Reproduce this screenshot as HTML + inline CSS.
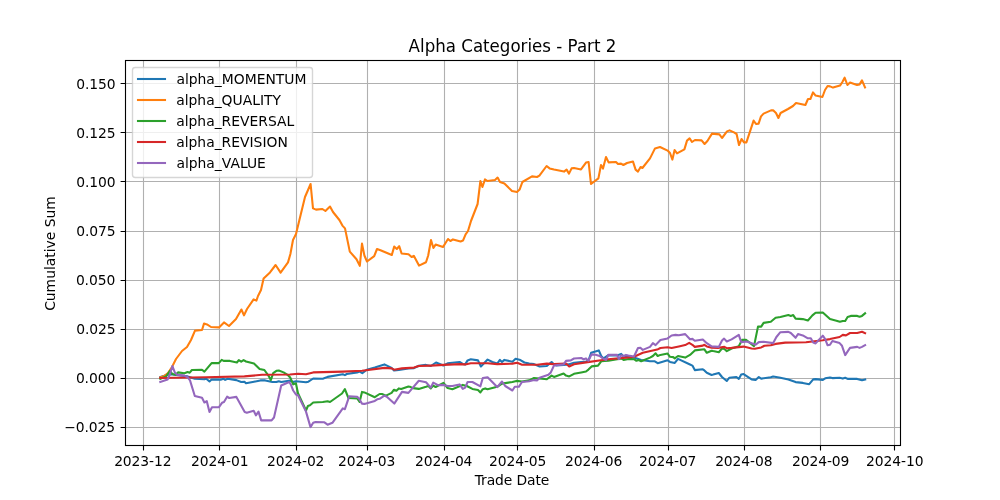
<!DOCTYPE html>
<html lang="en"><head><meta charset="utf-8"><title>Alpha Categories - Part 2</title>
<style>html,body{margin:0;padding:0;background:#fff}svg{display:block}text{font-family:"DejaVu Sans","Liberation Sans",sans-serif;fill:#000}</style></head><body>
<svg width="1000" height="500" viewBox="0 0 1000 500">
<rect width="1000" height="500" fill="#fff"/>
<path d="M143.5 60.5V445.5M219.5 60.5V445.5M296.5 60.5V445.5M367.5 60.5V445.5M444.5 60.5V445.5M517.5 60.5V445.5M594.5 60.5V445.5M668.5 60.5V445.5M744.5 60.5V445.5M820.5 60.5V445.5M894.5 60.5V445.5M125.5 427.5H900.5M125.5 378.5H900.5M125.5 329.5H900.5M125.5 280.5H900.5M125.5 231.5H900.5M125.5 181.5H900.5M125.5 132.5H900.5M125.5 83.5H900.5" fill="none" stroke="#b0b0b0" stroke-width="1.111"/>
<path d="M143.5 445.5V450.41M219.5 445.5V450.41M296.5 445.5V450.41M367.5 445.5V450.41M444.5 445.5V450.41M517.5 445.5V450.41M594.5 445.5V450.41M668.5 445.5V450.41M744.5 445.5V450.41M820.5 445.5V450.41M894.5 445.5V450.41M125.5 427.5H120.59M125.5 378.5H120.59M125.5 329.5H120.59M125.5 280.5H120.59M125.5 231.5H120.59M125.5 181.5H120.59M125.5 132.5H120.59M125.5 83.5H120.59" fill="none" stroke="#000" stroke-width="1.111"/>
<clipPath id="c"><rect x="125.5" y="60.5" width="775" height="385"/></clipPath>
<g clip-path="url(#c)" fill="none" stroke-width="2.083" stroke-linejoin="round" stroke-linecap="square">
<polyline stroke="#1f77b4" points="160.3,376.9 166.0,375.3 170.8,374.3 187.6,376.4 194.8,378.8 204.4,379.3 206.0,378.5 209.5,381.5 211.6,379.6 221.2,379.6 223.6,378.8 225.2,379.9 227.6,378.8 236.4,380.1 241.2,382.0 244.4,381.7 246.0,383.3 254.0,381.7 260.4,380.4 265.2,380.4 272.4,382.0 276.4,382.0 278.8,381.2 281.2,382.0 290.4,380.6 293.2,382.0 295.9,381.2 306.0,382.3 308.4,381.7 313.2,378.5 322.8,378.8 327.6,376.9 342.8,374.3 344.9,375.1 346.8,374.0 357.2,372.4 359.6,371.6 362.3,373.2 366.8,369.7 374.8,367.6 379.6,366.0 384.4,364.4 391.6,367.9 394.0,370.5 398.8,370.0 408.4,368.4 414.0,368.1 418.8,365.7 426.0,364.9 430.8,366.0 436.0,362.5 443.4,365.5 447.6,363.3 459.6,362.0 462.8,363.9 465.2,364.4 467.6,360.4 470.8,359.3 478.0,360.4 480.9,366.5 487.6,359.6 492.4,362.0 497.2,363.6 499.9,359.9 502.0,362.0 504.4,359.9 512.4,361.7 515.6,358.8 520.4,360.1 524.4,362.5 529.2,363.6 534.0,364.1 539.6,366.5 546.8,366.0 551.6,362.0 554.0,364.4 556.4,365.5 563.6,364.9 568.4,364.4 574.0,362.8 586.0,361.6 588.4,360.8 591.1,352.8 598.8,350.4 601.2,356.0 603.6,358.4 608.4,355.2 617.2,355.5 621.2,353.9 623.6,356.5 634.0,357.6 641.2,360.0 650.0,361.3 654.8,361.3 657.7,363.2 667.6,360.3 670.0,361.9 674.8,362.9 678.0,358.9 690.0,364.5 692.4,365.6 694.8,370.1 702.8,369.3 704.4,370.4 706.8,372.8 711.6,375.0 713.2,374.6 718.8,373.0 722.0,377.0 726.8,381.0 729.2,377.8 736.4,377.0 738.8,378.9 741.2,374.6 743.6,374.1 751.6,379.4 755.6,379.9 758.8,377.0 761.2,378.6 770.8,377.3 773.2,376.5 780.4,377.8 788.4,379.4 795.6,382.1 802.8,382.9 809.2,384.2 813.2,379.4 815.6,379.1 822.8,379.9 825.2,378.3 830.0,377.5 832.4,378.1 839.6,377.8 842.8,378.6 845.2,377.8 847.6,378.9 857.2,378.9 862.0,380.2 865.2,379.4"/>
<polyline stroke="#ff7f0e" points="160.3,377.4 164.0,376.0 168.0,373.0 172.0,367.0 176.0,359.0 182.0,351.0 187.0,347.0 191.0,340.0 195.0,330.6 202.0,330.0 204.0,323.6 207.0,324.4 211.0,327.0 219.0,327.4 224.0,322.4 229.0,326.0 236.0,319.0 241.4,309.5 244.0,315.4 247.0,309.0 253.6,299.4 256.4,300.6 258.0,296.0 261.0,290.0 263.6,278.6 270.0,272.4 275.6,265.0 280.6,272.6 288.0,262.4 290.4,254.0 293.0,240.0 296.0,234.0 299.4,220.0 305.0,197.0 310.6,184.0 313.0,208.4 316.0,209.6 322.4,209.0 325.4,211.0 330.0,206.5 333.0,212.0 339.4,220.0 342.4,225.6 345.0,228.4 349.8,251.6 356.5,259.2 359.8,265.8 362.0,243.6 364.4,255.5 367.0,261.5 374.2,256.2 377.0,249.0 380.5,250.2 391.8,255.0 394.2,246.6 396.8,249.0 399.2,246.2 401.6,253.5 408.5,254.2 411.6,257.0 413.8,255.8 419.0,265.6 426.0,262.2 428.2,255.5 431.0,240.0 433.4,248.0 435.6,244.6 443.0,247.0 448.0,239.0 450.4,241.0 453.0,239.4 460.6,241.4 463.0,240.6 465.6,234.4 468.0,231.0 471.0,221.0 477.6,204.0 480.4,181.0 482.4,187.0 485.0,179.4 487.4,181.0 495.0,180.0 497.6,177.6 500.0,182.0 504.4,183.6 512.0,191.0 517.0,192.0 519.6,189.6 522.4,182.0 532.0,176.4 537.0,177.0 539.4,175.6 546.6,166.0 549.6,168.4 554.0,169.6 564.0,171.6 566.6,169.6 569.0,173.6 571.6,168.4 574.0,168.0 581.0,169.4 586.0,162.6 588.6,162.0 591.0,184.0 598.4,178.4 601.0,165.0 603.0,168.6 606.0,157.0 608.6,162.4 616.0,162.0 618.0,164.0 621.0,163.6 623.4,165.0 627.0,163.0 633.0,161.6 635.6,169.6 638.0,171.6 640.6,167.0 642.4,168.0 650.0,158.4 655.0,148.4 660.0,147.0 667.6,150.6 670.0,153.0 672.4,159.6 674.6,150.0 677.0,153.4 684.4,149.4 687.0,140.6 689.6,138.4 692.0,142.0 695.0,140.0 701.6,140.4 704.6,144.0 707.4,141.0 712.0,133.6 719.4,134.4 722.0,138.0 727.0,131.4 729.6,130.4 734.0,132.4 736.6,134.0 739.0,145.0 741.6,139.0 744.0,142.4 746.4,142.4 753.6,120.6 756.0,124.0 758.6,123.6 761.0,116.4 763.6,113.6 771.0,110.4 773.4,110.4 776.0,113.0 778.4,118.0 780.6,113.0 788.0,109.0 793.0,106.0 796.0,103.0 805.4,105.0 808.0,99.0 810.4,99.0 813.0,92.4 815.6,95.6 822.4,97.0 825.0,90.0 827.6,86.0 830.0,86.4 833.0,87.6 840.0,85.6 842.4,82.0 844.6,77.6 847.4,85.0 850.0,82.6 857.0,85.0 859.6,84.4 862.0,80.4 865.0,87.4"/>
<polyline stroke="#2ca02c" points="160.3,378.8 166.0,376.4 170.0,370.8 172.4,374.0 175.6,374.8 178.0,372.4 184.4,373.2 187.6,372.0 189.7,372.7 191.9,370.0 202.0,369.7 204.4,371.6 211.6,363.1 218.8,363.1 221.7,359.9 223.6,360.9 230.0,360.9 236.9,362.5 238.8,360.1 241.2,361.7 243.6,360.1 246.0,361.5 254.0,363.6 259.6,368.9 264.4,370.0 268.4,375.6 270.8,380.1 273.2,373.2 276.4,370.8 278.8,370.5 283.6,372.4 287.6,374.8 290.4,377.8 293.2,384.4 295.9,383.3 298.0,393.2 306.0,410.5 307.9,406.0 310.0,405.2 313.2,402.5 322.8,402.0 327.6,401.2 330.0,402.0 342.0,393.5 344.9,389.2 348.4,398.0 357.2,398.5 359.6,402.0 362.0,391.9 364.4,392.4 374.8,397.2 379.6,394.0 382.0,394.0 386.0,395.6 391.6,392.9 394.0,389.7 396.4,390.8 398.8,388.4 401.2,388.9 408.4,386.5 410.8,387.1 413.2,388.1 418.8,388.9 426.0,386.8 428.4,386.0 430.8,388.4 433.2,385.6 435.6,387.0 443.5,382.8 447.6,388.0 452.4,389.2 462.8,384.9 466.8,386.0 472.4,388.9 478.0,390.0 480.4,392.4 482.8,389.2 485.2,388.4 487.6,389.2 497.2,386.8 502.0,383.6 512.4,382.0 516.4,380.9 522.0,381.5 529.2,380.4 534.0,378.0 542.0,378.8 546.8,379.3 551.6,375.6 554.0,376.9 563.6,373.5 566.0,375.6 569.2,376.4 574.0,373.8 581.2,372.4 586.0,371.5 588.4,369.6 591.6,366.4 598.0,365.6 601.2,361.3 608.4,360.8 617.2,359.2 621.2,358.4 623.6,360.0 628.4,358.9 634.0,359.2 636.4,360.8 638.8,360.0 641.2,361.3 650.0,357.6 652.9,356.0 655.6,353.3 657.7,356.0 660.4,354.9 667.6,353.6 670.0,356.8 673.2,357.1 674.8,358.4 678.0,356.0 685.2,357.6 690.0,354.9 694.8,350.4 704.4,349.3 706.8,352.8 711.6,350.7 713.2,351.1 718.8,352.2 722.0,348.5 724.4,349.0 726.8,351.1 731.6,348.5 738.8,346.3 742.0,339.9 746.0,339.7 754.0,346.1 758.0,326.6 761.2,326.6 763.6,322.9 770.8,321.8 775.6,317.8 780.4,317.0 788.4,315.1 790.8,315.9 793.2,315.1 795.6,318.6 802.8,319.1 807.9,320.5 812.4,315.4 815.6,312.7 822.8,312.5 830.0,319.1 836.4,320.7 839.9,321.8 842.8,321.0 845.2,321.0 847.6,317.0 850.8,315.9 857.2,315.9 859.6,316.7 862.0,315.9 865.1,313.3"/>
<polyline stroke="#d62728" points="160.3,378.0 206.0,377.2 244.4,376.4 262.0,374.8 290.0,374.5 298.0,373.7 306.0,374.3 313.2,372.4 342.8,371.6 362.0,370.8 384.4,367.9 391.6,368.4 394.0,369.7 402.0,368.4 414.0,367.6 418.8,366.0 430.8,365.6 443.6,364.9 459.6,364.1 465.2,364.4 470.8,363.3 487.6,363.3 497.2,364.1 512.4,363.6 517.2,362.8 522.0,364.7 537.2,364.7 546.8,363.6 554.0,364.1 566.0,363.6 569.2,366.5 574.0,364.2 586.0,362.4 602.8,360.0 608.4,359.2 626.0,357.6 634.0,356.8 642.8,352.8 657.2,349.6 660.4,348.0 667.6,347.2 671.6,348.0 678.8,346.4 685.2,345.1 689.2,342.9 692.4,344.8 694.8,346.9 702.8,345.6 704.4,344.8 706.8,346.4 711.6,347.8 718.0,347.9 724.4,346.9 726.8,348.2 731.6,347.9 743.6,346.6 751.6,348.5 754.8,348.7 761.2,347.4 764.4,345.8 770.8,345.3 775.6,343.9 785.2,342.6 806.0,342.3 812.4,341.5 822.8,340.2 830.0,339.1 839.6,337.0 842.8,334.9 846.0,335.4 850.0,333.0 857.2,333.0 862.0,331.7 865.1,333.2"/>
<polyline stroke="#9467bd" points="160.3,382.0 167.6,379.6 170.0,374.0 172.4,366.0 174.8,372.4 177.2,374.8 184.4,375.6 187.6,377.2 190.0,380.4 194.8,396.0 202.0,397.7 204.4,402.5 206.8,401.2 209.5,412.0 212.0,407.3 218.8,407.3 222.0,402.8 224.0,402.0 227.1,396.7 229.2,398.0 236.4,396.9 244.7,412.0 246.8,412.7 253.7,410.8 255.9,415.3 258.5,411.6 261.2,420.4 271.6,420.4 274.0,417.5 281.2,385.5 289.2,382.0 290.8,384.4 293.2,390.5 295.9,394.5 298.0,395.3 306.0,411.6 310.5,427.1 313.2,422.8 315.6,422.0 324.4,422.3 327.6,424.7 332.4,422.8 342.8,408.4 344.9,409.2 349.2,396.3 357.2,396.8 359.1,398.8 362.0,403.6 364.4,403.9 374.8,400.9 377.2,399.3 379.6,398.8 384.4,395.6 386.8,396.7 394.3,403.6 402.0,391.9 408.4,392.9 418.8,380.7 426.0,382.3 430.8,387.6 433.2,382.6 438.0,385.2 443.6,384.9 447.6,386.0 452.4,386.0 459.6,384.4 462.8,388.9 465.2,387.6 467.6,382.0 472.4,382.0 480.4,386.3 482.8,378.0 487.6,377.2 497.2,387.1 502.0,381.5 505.2,386.0 512.4,390.5 514.8,386.8 518.8,386.8 522.0,382.0 529.2,381.2 534.0,380.1 537.2,380.4 539.6,377.7 548.4,374.8 550.8,372.4 554.0,365.5 563.6,364.4 566.0,360.9 570.8,360.4 574.0,358.5 581.2,358.0 583.6,359.2 586.0,358.4 588.4,360.8 591.6,354.4 595.6,354.7 599.6,356.0 602.8,358.4 606.0,360.0 608.4,354.7 617.2,354.9 618.8,359.2 621.2,355.2 623.6,356.0 626.0,354.9 628.4,355.5 634.0,356.5 638.0,348.0 640.4,347.7 642.8,349.9 650.0,346.9 652.9,343.2 655.6,345.1 660.4,340.0 667.6,338.4 671.6,335.5 675.6,334.9 678.8,335.2 685.2,334.1 690.0,339.2 692.4,338.9 694.8,340.8 702.8,339.5 706.8,343.2 711.6,346.4 718.8,346.9 722.0,340.5 724.1,338.6 726.8,341.5 731.6,339.4 738.8,334.9 741.2,342.1 746.8,341.5 755.6,344.7 758.8,342.1 763.6,341.8 773.2,343.1 776.4,337.0 780.4,332.2 788.4,331.9 790.8,333.0 795.6,337.8 798.0,334.1 802.8,335.4 807.9,338.3 810.8,338.3 813.2,342.6 815.6,343.4 822.8,335.7 825.2,339.1 827.6,345.3 830.0,344.7 832.4,341.0 839.6,343.1 842.0,345.8 845.2,355.1 850.0,347.9 857.2,346.9 859.6,347.9 862.0,346.9 865.1,345.2"/>
</g>
<rect x="125.5" y="60.5" width="775.0" height="385.0" fill="none" stroke="#000" stroke-width="1.111"/>
<g font-size="13.889" text-anchor="middle" letter-spacing="-0.1">
<text x="142.78" y="465.55">2023-12</text>
<text x="219.75" y="465.55">2024-01</text>
<text x="295.72" y="465.55">2024-02</text>
<text x="366.66" y="465.55">2024-03</text>
<text x="443.73" y="465.55">2024-04</text>
<text x="517.63" y="465.55">2024-05</text>
<text x="593.60" y="465.55">2024-06</text>
<text x="667.71" y="465.55">2024-07</text>
<text x="743.77" y="465.55">2024-08</text>
<text x="820.64" y="465.55">2024-09</text>
<text x="894.75" y="465.55">2024-10</text>
<text x="512.0" y="484.55">Trade Date</text>
</g>
<g font-size="13.889" text-anchor="end" letter-spacing="-0.1">
<text x="114.98" y="432.14">−0.025</text>
<text x="115.13" y="383.06">0.000</text>
<text x="115.53" y="333.98">0.025</text>
<text x="115.13" y="284.90">0.050</text>
<text x="115.53" y="235.82">0.075</text>
<text x="115.53" y="186.74">0.100</text>
<text x="115.53" y="137.66">0.125</text>
<text x="115.53" y="88.58">0.150</text>
</g>
<text font-size="13.889" text-anchor="middle" transform="translate(54.68 253.5) rotate(-90)">Cumulative Sum</text>
<text font-size="16.667" text-anchor="middle" transform="translate(512.5 51.67) scale(1 1.023)">Alpha Categories - Part 2</text>
<rect x="132.5" y="67.5" width="180" height="110" rx="2.78" fill="#fff" fill-opacity="0.8" stroke="#ccc" stroke-opacity="0.8" stroke-width="1.389"/>
<g font-size="13.889" letter-spacing="0">
<path d="M138 79H165" stroke="#1f77b4" stroke-width="2.083" stroke-linecap="square" fill="none"/>
<text x="176.4" y="83.61">alpha_MOMENTUM</text>
<path d="M138 100H165" stroke="#ff7f0e" stroke-width="2.083" stroke-linecap="square" fill="none"/>
<text x="176.20000000000002" y="104.61">alpha_QUALITY</text>
<path d="M138 121H165" stroke="#2ca02c" stroke-width="2.083" stroke-linecap="square" fill="none"/>
<text x="176.20000000000002" y="125.61">alpha_REVERSAL</text>
<path d="M138 142H165" stroke="#d62728" stroke-width="2.083" stroke-linecap="square" fill="none"/>
<text x="176.20000000000002" y="146.61">alpha_REVISION</text>
<path d="M138 163H165" stroke="#9467bd" stroke-width="2.083" stroke-linecap="square" fill="none"/>
<text x="176.4" y="167.61">alpha_VALUE</text>
</g>
</svg></body></html>
